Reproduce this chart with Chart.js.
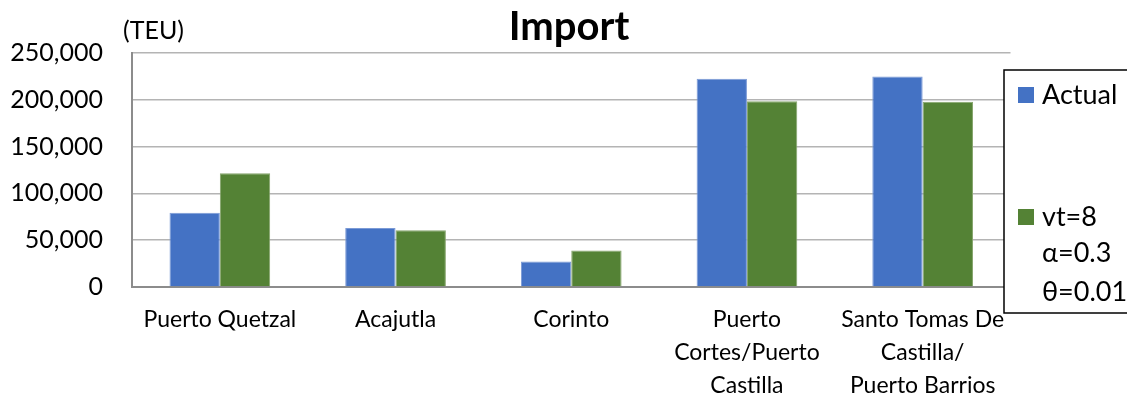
<!DOCTYPE html>
<html>
<head>
<meta charset="utf-8">
<script src="https://cdn.jsdelivr.net/npm/chart.js@4"></script>
<style>
  html, body { margin: 0; padding: 0; background: #fff; }
  #wrap { width: 1127px; height: 399px; }
</style>
</head>
<body>
<div id="wrap"><canvas id="c" width="1127" height="399"></canvas></div>
<script>
// Container throughput by port (TEU)
const ports = [
  'Puerto Quetzal',
  'Acajutla',
  'Corinto',
  ['Puerto', 'Cortes/Puerto', 'Castilla'],
  ['Santo Tomas De', 'Castilla/', 'Puerto Barrios']
];
const actual = [79400, 63000, 27200, 222500, 225000];
const model = [121500, 60700, 39000, 198500, 198000];
const seriesNames = [['Actual'], ['vt=8', 'α=0.3', 'θ=0.01']];
const yTicks = [0, 50000, 100000, 150000, 200000, 250000];

const FONT = 'Lato, "Open Sans", sans-serif';
const BLUE = '#4472C4';
const GREEN = '#548235';

// Title, unit label and the boxed legend at the right edge
const decorations = {
  id: 'decorations',
  afterDraw(chart) {
    const ctx = chart.ctx;
    ctx.save();
    ctx.fillStyle = '#000';
    ctx.textBaseline = 'middle';
    ctx.textAlign = 'center';
    ctx.font = 'bold 40px ' + FONT;
    ctx.fillText('Import', 569, 27);
    ctx.textAlign = 'left';
    ctx.font = '25px ' + FONT;
    ctx.fillText('(TEU)', 123, 31);

    // legend box
    const bx = 1004, by = 70, bw = 140, bh = 243;
    ctx.fillStyle = '#fff';
    ctx.fillRect(bx, by, bw, bh);
    ctx.strokeStyle = '#000';
    ctx.lineWidth = 1.5;
    ctx.strokeRect(bx, by, bw, bh);

    const entryY = [95, 217];
    ctx.font = '27px ' + FONT;
    chart.data.datasets.forEach((ds, i) => {
      const y = entryY[i];
      ctx.fillStyle = ds.backgroundColor;
      ctx.fillRect(1018, y - 8, 16, 16);
      ctx.fillStyle = '#000';
      const lines = seriesNames[i];
      lines.forEach((t, k) => {
        const ly = y + (k === 0 ? 0 : (k === 1 ? 36 : 75));
        ctx.fillText(t, 1042, ly);
      });
    });
    ctx.restore();
  }
};

new Chart(document.getElementById('c'), {
  type: 'bar',
  data: {
    labels: ports,
    datasets: [
      { label: seriesNames[0].join(' '), data: actual, backgroundColor: BLUE,
        borderColor: '#7b9ad6', borderWidth: 1 },
      { label: seriesNames[1].join(' '), data: model, backgroundColor: GREEN,
        borderColor: '#86a56c', borderWidth: 1 }
    ]
  },
  options: {
    responsive: false,
    animation: false,
    layout: { padding: { left: 0, right: 116.5, top: 53, bottom: 0 } },
    plugins: { legend: { display: false }, title: { display: false }, tooltip: { enabled: false } },
    datasets: { bar: { categoryPercentage: 0.573, barPercentage: 1.0 } },
    scales: {
      x: {
        grid: { display: false, drawTicks: false },
        border: { display: true, color: '#8c8c8c', width: 2 },
        ticks: {
          color: '#000',
          font: { family: FONT, size: 23, lineHeight: 1.44 },
          padding: 16,
          maxRotation: 0,
          autoSkip: false
        },
        afterFit(scale) { scale.height = 399 - 287; }
      },
      y: {
        min: 0,
        max: 250000,
        afterBuildTicks(scale) { scale.ticks = yTicks.map(v => ({ value: v })); },
        grid: { color: '#b4b4b4', lineWidth: 1.5, drawTicks: false },
        border: { display: true, color: '#8c8c8c', width: 2 },
        ticks: {
          color: '#000',
          font: { family: FONT, size: 25 },
          padding: 29,
          callback: v => v.toLocaleString('en-US')
        },
        afterFit(scale) { scale.width = 132; }
      }
    }
  },
  plugins: [decorations]
});
</script>
</body>
</html>
